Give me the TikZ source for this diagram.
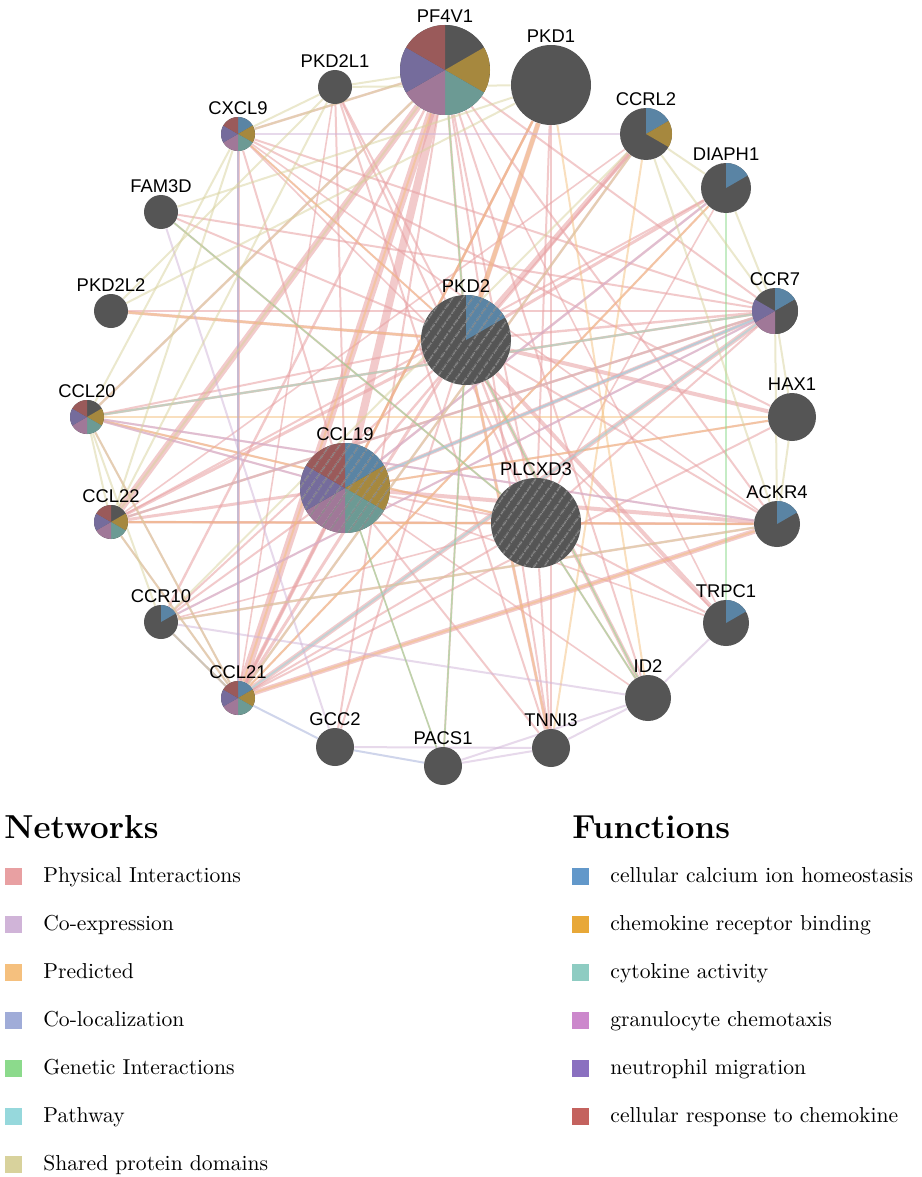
\documentclass[tikz,border=0pt]{standalone}
\usepackage{fontspec}
\newfontfamily\genefont{Liberation Sans}
\usetikzlibrary{backgrounds,patterns.meta}
\definecolor{netphys}{HTML}{E8A0A2}
\definecolor{netcoex}{HTML}{D0B4D8}
\definecolor{netpred}{HTML}{F5C07E}
\definecolor{netcoloc}{HTML}{A0ACD8}
\definecolor{netgen}{HTML}{8CDA8C}
\definecolor{netpway}{HTML}{96D8DC}
\definecolor{netshd}{HTML}{D8D29C}
\definecolor{ngrey}{HTML}{555555}
\definecolor{nhatch}{HTML}{8C8C8C}
\definecolor{pcal}{HTML}{5A84A4}
\definecolor{pchem}{HTML}{A6883E}
\definecolor{pcyto}{HTML}{6C9A94}
\definecolor{pgran}{HTML}{A07898}
\definecolor{pneut}{HTML}{756C9C}
\definecolor{presp}{HTML}{9A5A5A}
\definecolor{lcal}{HTML}{6298CA}
\definecolor{lchem}{HTML}{E8A838}
\definecolor{lcyto}{HTML}{8ECCC2}
\definecolor{lgran}{HTML}{CC88CC}
\definecolor{lneut}{HTML}{8A70C0}
\definecolor{lresp}{HTML}{C4625E}
\newcommand{\genepie}[3]{\foreach \c [count=\i from 0] in {#3}{\fill[\c] (#1.center) -- ++(90-60*\i:#2) arc[start angle=90-60*\i, delta angle=-60, radius=#2] -- cycle;}}
\begin{document}
\begin{tikzpicture}[x=0.5pt,y=0.5pt,line cap=round,
	gene/.style={circle,fill=ngrey,inner sep=0pt,minimum size=#1,label distance=0.8pt},
	lbl/.style={font=\genefont\fontsize{9.2}{10}\selectfont,inner sep=1pt},
	hatch/.style={pattern={Lines[angle=55,distance=4pt,line width=0.7pt]},pattern color=nhatch},
	edge/.style={draw opacity=0.5,line width=#1}, edge/.default=0.8pt,
	pint/.style={edge=#1,draw=netphys,draw opacity=0.55}, pint/.default=1pt,
	coex/.style={edge=#1,draw=netcoex}, coex/.default=1pt,
	pred/.style={edge=#1,draw=netpred}, pred/.default=1pt,
	coloc/.style={edge=#1,draw=netcoloc}, coloc/.default=1pt,
	gen/.style={edge=#1,draw=netgen}, gen/.default=0.8pt,
	pway/.style={edge=#1,draw=netpway}, pway/.default=1pt,
	shd/.style={edge=#1,draw=netshd}, shd/.default=1pt,
	keybox/.style={minimum size=8.5pt,inner sep=0pt},
	keytext/.style={anchor=base west,inner sep=0pt,font=\fontsize{10.8}{12}\selectfont},
	keyhead/.style={anchor=base west,inner sep=0pt,font=\bfseries\fontsize{16.6}{19}\selectfont}]
	\useasboundingbox (0,0) rectangle (921,-1177);
	\node[gene=45pt,label={[lbl]above:PF4V1}] (PF4V1) at (445,-70) {};
	\node[gene=40pt,label={[lbl]above:PKD1}] (PKD1) at (551,-85) {};
	\node[gene=17pt,label={[lbl]above:PKD2L1}] (PKD2L1) at (335,-87) {};
	\node[gene=26pt,label={[lbl]above:CCRL2}] (CCRL2) at (646,-134) {};
	\node[gene=17pt,label={[lbl]above:CXCL9}] (CXCL9) at (238,-134) {};
	\node[gene=25pt,label={[lbl]above:DIAPH1}] (DIAPH1) at (726,-188) {};
	\node[gene=17pt,label={[lbl]above:FAM3D}] (FAM3D) at (161,-212) {};
	\node[gene=17pt,label={[lbl]above:PKD2L2}] (PKD2L2) at (111,-311) {};
	\node[gene=23pt,label={[lbl]above:CCR7}] (CCR7) at (775,-311) {};
	\node[gene=45pt,label={[lbl]above:PKD2}] (PKD2) at (466,-340) {};
	\node[gene=24pt,label={[lbl]above:HAX1}] (HAX1) at (792,-417) {};
	\node[gene=17pt,label={[lbl]above:CCL20}] (CCL20) at (87,-417) {};
	\node[gene=45pt,label={[lbl]above:CCL19}] (CCL19) at (345,-488) {};
	\node[gene=45pt,label={[lbl]above:PLCXD3}] (PLCXD3) at (536,-523) {};
	\node[gene=17pt,label={[lbl]above:CCL22}] (CCL22) at (111,-522) {};
	\node[gene=23pt,label={[lbl]above:ACKR4}] (ACKR4) at (777,-524) {};
	\node[gene=17pt,label={[lbl]above:CCR10}] (CCR10) at (161,-622) {};
	\node[gene=23pt,label={[lbl]above:TRPC1}] (TRPC1) at (726,-623) {};
	\node[gene=23pt,label={[lbl]above:ID2}] (ID2) at (648,-698) {};
	\node[gene=17pt,label={[lbl]above:CCL21}] (CCL21) at (238,-698) {};
	\node[gene=19pt,label={[lbl]above:GCC2}] (GCC2) at (335,-747) {};
	\node[gene=19pt,label={[lbl]above:PACS1}] (PACS1) at (443,-766) {};
	\node[gene=19pt,label={[lbl]above:TNNI3}] (TNNI3) at (551,-748) {};
	\genepie{PF4V1}{22.5pt}{ngrey,pchem,pcyto,pgran,pneut,presp}
	\genepie{CCL19}{22.5pt}{pcal,pchem,pcyto,pgran,pneut,presp}
	\genepie{CXCL9}{8.5pt}{pcal,pchem,pcyto,pgran,pneut,presp}
	\genepie{CCL21}{8.5pt}{pcal,pchem,pcyto,pgran,pneut,presp}
	\genepie{CCL20}{8.5pt}{ngrey,pchem,pcyto,pgran,pneut,presp}
	\genepie{CCL22}{8.5pt}{ngrey,pchem,pcyto,pgran,pneut,presp}
	\genepie{CCRL2}{13pt}{pcal,pchem}
	\genepie{CCR7}{11.5pt}{pcal,ngrey,ngrey,pgran,pneut}
	\genepie{PKD2}{22.5pt}{pcal}
	\genepie{DIAPH1}{12.5pt}{pcal}
	\genepie{ACKR4}{11.5pt}{pcal}
	\genepie{TRPC1}{11.5pt}{pcal}
	\genepie{CCR10}{8.5pt}{pcal}
	\fill[hatch] (PKD2.center) circle[radius=22.5pt] (PLCXD3.center) circle[radius=22.5pt] (CCL19.center) circle[radius=22.5pt];
	\begin{scope}[on background layer]
		\fill[white] (0,0) rectangle (921,-1177);
		\foreach \a/\b/\w in {PF4V1/CCL21/4pt,PF4V1/CCL22/3.5pt,PF4V1/CCL19/4pt,PF4V1/CXCL9/1.2pt,PF4V1/CCL20/1.2pt,PF4V1/CCR10/1.2pt,PF4V1/CCR7/1pt,PF4V1/ACKR4/1pt,PF4V1/PKD2/1.2pt,PF4V1/PLCXD3/1pt,PF4V1/TNNI3/1pt,PF4V1/GCC2/1pt,PF4V1/ID2/1pt,PF4V1/TRPC1/0.8pt,PKD2L1/PKD2/1pt,PKD2L1/CCL19/1pt,PKD2L1/PLCXD3/1pt,PKD2L1/TNNI3/1pt,PKD2L1/CCL21/0.8pt,PKD1/PKD2/2.5pt,PKD1/CCL21/1.2pt,PKD1/PLCXD3/1pt,PKD1/CCL19/1pt,PKD1/TNNI3/0.8pt,CCRL2/PKD2/2.5pt,CCRL2/CCL19/1.2pt,CCRL2/CCL21/1.2pt,CCRL2/CCL22/0.8pt,DIAPH1/PKD2/1.5pt,DIAPH1/CCL19/1.2pt,DIAPH1/CCL22/1pt,DIAPH1/CCL21/1pt,DIAPH1/PLCXD3/0.8pt,CXCL9/CCL21/1.5pt,CXCL9/CCR7/1pt,CXCL9/PKD2/1pt,CXCL9/CCL19/1pt,CXCL9/HAX1/1pt,CXCL9/ACKR4/0.8pt,CXCL9/TRPC1/0.8pt,FAM3D/PKD2/1pt,FAM3D/CCR7/1pt,FAM3D/PLCXD3/1pt,PKD2L2/PKD2/1.5pt,PKD2L2/CCR7/0.8pt,CCR7/CCL21/2.5pt,CCR7/CCL19/2pt,CCR7/CCL22/1.2pt,CCR7/CCL20/1.2pt,CCR7/PKD2/1.2pt,CCR7/CCR10/1pt,CCR7/PLCXD3/1pt,HAX1/PKD2/2pt,HAX1/CCL19/1pt,HAX1/CCL21/1pt,CCL20/PKD2/1pt,CCL20/CCL19/1pt,CCL20/PLCXD3/1pt,CCL22/CCL19/1.5pt,CCL22/PLCXD3/1pt,ACKR4/CCL21/2.5pt,ACKR4/CCL19/2pt,ACKR4/CCL22/1.2pt,ACKR4/CCL20/1pt,ACKR4/PKD2/1pt,ACKR4/CCR10/1.2pt,ACKR4/PLCXD3/1pt,PLCXD3/TRPC1/1pt,PLCXD3/ID2/1pt,PLCXD3/TNNI3/1pt,PLCXD3/CCL19/1pt,PLCXD3/PKD2/1.2pt,PLCXD3/CCL21/1pt,PLCXD3/CCR10/0.8pt,PKD2/TRPC1/2pt,PKD2/ID2/2pt,PKD2/TNNI3/1.5pt,PKD2/GCC2/1pt,PKD2/PACS1/1pt,PKD2/CCL21/1.5pt,PKD2/CCR10/1pt,PKD2/CCL22/1.5pt,CCL21/CCL19/2pt,CCL21/CCR10/1pt,CCL21/CCL22/1pt,CCL21/CCL20/1pt,CCL19/CCR10/1pt,CCL19/TNNI3/1pt,CCL19/ID2/0.8pt,CCL19/TRPC1/0.8pt,CCL19/PACS1/0.8pt}
			\draw[pint=\w] (\a) -- (\b);
		\foreach \a/\b/\w in {PKD1/PKD2/2pt,PKD1/CCL19/1.2pt,PF4V1/CCL21/1pt,PKD2L2/PKD2/1.2pt,HAX1/CCL19/1pt,CCR7/CCL22/1pt,ACKR4/CCL21/1pt,CCL20/PLCXD3/1pt,PKD2/TNNI3/1pt,CCRL2/TNNI3/1pt,DIAPH1/CCL21/1pt,PKD1/ID2/1pt,CCL20/CCR7/1pt,CCL22/ACKR4/1pt,CXCL9/PKD2/0.8pt,CCL20/HAX1/0.8pt}
			\draw[pred=\w] (\a) -- (\b);
		\foreach \a/\b in {CXCL9/CCRL2,FAM3D/GCC2,CCR7/CCL22,ACKR4/CCL20,GCC2/TNNI3,PACS1/TNNI3,TNNI3/ID2,ID2/TRPC1,PACS1/ID2,CCR10/ID2,CCR7/CCR10,CCL19/CCR7,DIAPH1/CCL19,CCL20/CCL19}
			\draw[coex] (\a) -- (\b);
		\foreach \a/\b in {CCL21/GCC2,GCC2/PACS1,CXCL9/CCL21,CCR10/CCL21}
			\draw[coloc] (\a) -- (\b);
		\foreach \a/\b in {PF4V1/PKD2,PKD2/PACS1,DIAPH1/TRPC1,FAM3D/PLCXD3,PLCXD3/ID2,PKD2/ID2,CCL19/PACS1}
			\draw[gen] (\a) -- (\b);
		\foreach \a/\b in {CCL20/CCR7,CCL19/CCR7,CCL21/CCR7}
			\draw[pway] (\a) -- (\b);
		\foreach \a/\b in {PKD2L1/PF4V1,PKD2L1/PKD1,PKD2L1/CXCL9,PKD1/PKD2L2,PKD2L1/PKD2L2,PF4V1/CCL20,PF4V1/CXCL9,PF4V1/CCL22,CXCL9/CCL20,CXCL9/CCL22,CCL20/CCL22,CCL20/CCL21,CCL22/CCL21,CCR10/CCL20,CCR10/CCL21,CCR7/ACKR4,CCRL2/ACKR4,CCRL2/CCR7,CCRL2/DIAPH1,HAX1/ACKR4,CCR7/HAX1,PKD1/FAM3D,CCRL2/CCL21,DIAPH1/CCR7,ACKR4/CCR10,CCRL2/CCR10,PKD2L1/CCL22}
			\draw[shd] (\a) -- (\b);
	\end{scope}
	\node[keyhead] (nethead) at (4,-838) {Networks};
	\foreach \c/\t [count=\i from 0] in {netphys/Physical Interactions,netcoex/Co-expression,netpred/Predicted,netcoloc/Co-localization,netgen/Genetic Interactions,netpway/Pathway,netshd/Shared protein domains}{
		\node[keybox,fill=\c] (netkey\i) at (13.5,-876-48*\i) {};
		\node[keytext] (nettext\i) at (43,-882-48*\i) {\t};
	}
	\node[keyhead] (funchead) at (572,-838) {Functions};
	\foreach \c/\t [count=\i from 0] in {lcal/cellular calcium ion homeostasis,lchem/chemokine receptor binding,lcyto/cytokine activity,lgran/granulocyte chemotaxis,lneut/neutrophil migration,lresp/cellular response to chemokine}{
		\node[keybox,fill=\c] (funckey\i) at (580.5,-876-48*\i) {};
		\node[keytext] (functext\i) at (610,-882-48*\i) {\t};
	}
\end{tikzpicture}
\end{document}
